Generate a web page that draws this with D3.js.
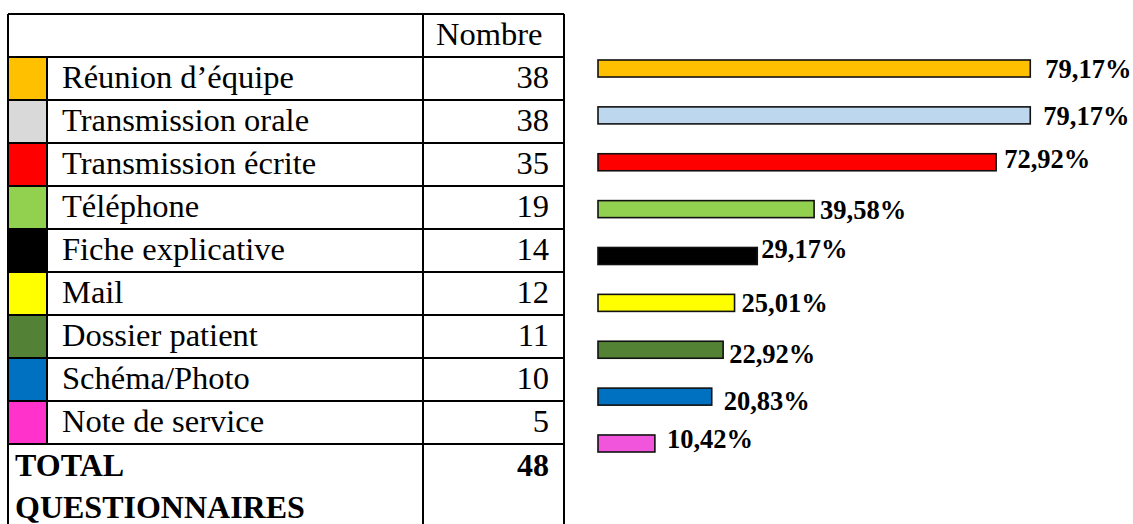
<!DOCTYPE html>
<html>
<head>
<meta charset="utf-8">
<script src="https://cdn.jsdelivr.net/npm/d3@7"></script>
<style>
  body { margin: 0; background: #fff; }
  text { font-family: "Liberation Serif", "Times New Roman", serif; }
</style>
</head>
<body>
<div class="chart"></div>
<script>
// Data
var categories = ["Réunion d’équipe", "Transmission orale", "Transmission écrite", "Téléphone",
  "Fiche explicative", "Mail", "Dossier patient", "Schéma/Photo", "Note de service"];
var counts = [38, 38, 35, 19, 14, 12, 11, 10, 5];
var percents = [79.17, 79.17, 72.92, 39.58, 29.17, 25.01, 22.92, 20.83, 10.42];
var percentLabels = ["79,17%", "79,17%", "72,92%", "39,58%", "29,17%", "25,01%", "22,92%", "20,83%", "10,42%"];
var totalLabel = ["TOTAL", "QUESTIONNAIRES"];
var totalCount = 48;
var swatchColors = ["#FFC000", "#D9D9D9", "#FF0000", "#92D050", "#000000", "#FFFF00", "#538135", "#0070C0", "#FF33CC"];
var barColors = ["#FFC000", "#BDD7EE", "#FF0000", "#92D050", "#000000", "#FFFF00", "#548235", "#0070C0", "#F055DC"];

var svgWidth = 1133, svgHeight = 524;

var svg = d3.select(".chart").append("svg")
  .attr("width", svgWidth)
  .attr("height", svgHeight);

// ---------- table ----------
var tLeft = 8, tSwatch = 47, tDivider = 423, tRight = 564;
var rowScale = d3.scaleBand()
  .domain(["header"].concat(categories))
  .range([14, 444]);
var rowH = rowScale.bandwidth();
var totalTop = 444, totalBottom = totalTop + 2 * rowH;
var cellFont = "32.5px";

var table = svg.append("g");

// colour swatches
table.selectAll("rect.swatch")
  .data(categories)
  .enter()
  .append("rect")
  .attr("class", "swatch")
  .attr("x", tLeft)
  .attr("y", d => rowScale(d))
  .attr("width", tSwatch - tLeft)
  .attr("height", rowH)
  .attr("fill", (d, i) => swatchColors[i]);

// category names
table.selectAll("text.cat")
  .data(categories)
  .enter()
  .append("text")
  .attr("class", "cat")
  .attr("x", 62)
  .attr("y", d => rowScale(d) + 31)
  .style("font-size", cellFont)
  .text(d => d);

// counts
table.selectAll("text.count")
  .data(counts)
  .enter()
  .append("text")
  .attr("class", "count")
  .attr("x", 549)
  .attr("y", (d, i) => rowScale(categories[i]) + 31)
  .attr("text-anchor", "end")
  .style("font-size", cellFont)
  .text(d => d);

table.append("text")
  .attr("x", 436)
  .attr("y", rowScale("header") + 31)
  .style("font-size", cellFont)
  .text("Nombre");

// total row
table.selectAll("text.total")
  .data(totalLabel)
  .enter()
  .append("text")
  .attr("class", "total")
  .attr("x", 15)
  .attr("y", (d, i) => totalTop + 32 + i * 42)
  .style("font-size", "32px")
  .style("font-weight", "bold")
  .text(d => d);

table.append("text")
  .attr("x", 549)
  .attr("y", totalTop + 32)
  .attr("text-anchor", "end")
  .style("font-size", "32px")
  .style("font-weight", "bold")
  .text(totalCount);

// grid lines
var hLines = rowScale.domain().map(d => rowScale(d)).concat([totalTop]);
table.selectAll("line.h")
  .data(hLines)
  .enter()
  .append("line")
  .attr("class", "h")
  .attr("x1", tLeft).attr("x2", tRight)
  .attr("y1", d => d).attr("y2", d => d)
  .attr("stroke", "#000").attr("stroke-width", 2);

var vLines = [
  {x: tLeft, y1: 14, y2: totalBottom},
  {x: tSwatch, y1: rowScale(categories[0]), y2: totalTop},
  {x: tDivider, y1: 14, y2: totalBottom},
  {x: tRight, y1: 14, y2: totalBottom}
];
table.selectAll("line.v")
  .data(vLines)
  .enter()
  .append("line")
  .attr("class", "v")
  .attr("x1", d => d.x).attr("x2", d => d.x)
  .attr("y1", d => d.y1).attr("y2", d => d.y2)
  .attr("stroke", "#000").attr("stroke-width", 2);

// ---------- bars ----------
var xScale = d3.scaleLinear()
  .domain([0, 100])
  .range([598, 1144]);

var yScale = d3.scaleBand()
  .domain(categories)
  .range([60, 452])
  .paddingInner(0.637)
  .paddingOuter(0);

// small label nudges (the original labels are not all centred on their bar)
var labelGap = [15, 13, 8, 6, 4, 7, 6, 12, 12];
var labelShift = [0, 0, -4, 1, -7, 0, 4, 4, -5];

var bars = svg.append("g");

bars.selectAll("rect.bar")
  .data(percents)
  .enter()
  .append("rect")
  .attr("class", "bar")
  .attr("x", xScale(0))
  .attr("y", (d, i) => yScale(categories[i]))
  .attr("width", d => xScale(d) - xScale(0))
  .attr("height", yScale.bandwidth())
  .attr("fill", (d, i) => barColors[i])
  .attr("stroke", "#111")
  .attr("stroke-width", 1.6);

bars.selectAll("text.pct")
  .data(percents)
  .enter()
  .append("text")
  .attr("class", "pct")
  .attr("x", (d, i) => xScale(d) + labelGap[i])
  .attr("y", (d, i) => yScale(categories[i]) + yScale.bandwidth() / 2 + labelShift[i])
  .attr("dy", "0.35em")
  .style("font-size", "26.5px")
  .style("font-weight", "bold")
  .text((d, i) => percentLabels[i]);
</script>
</body>
</html>
